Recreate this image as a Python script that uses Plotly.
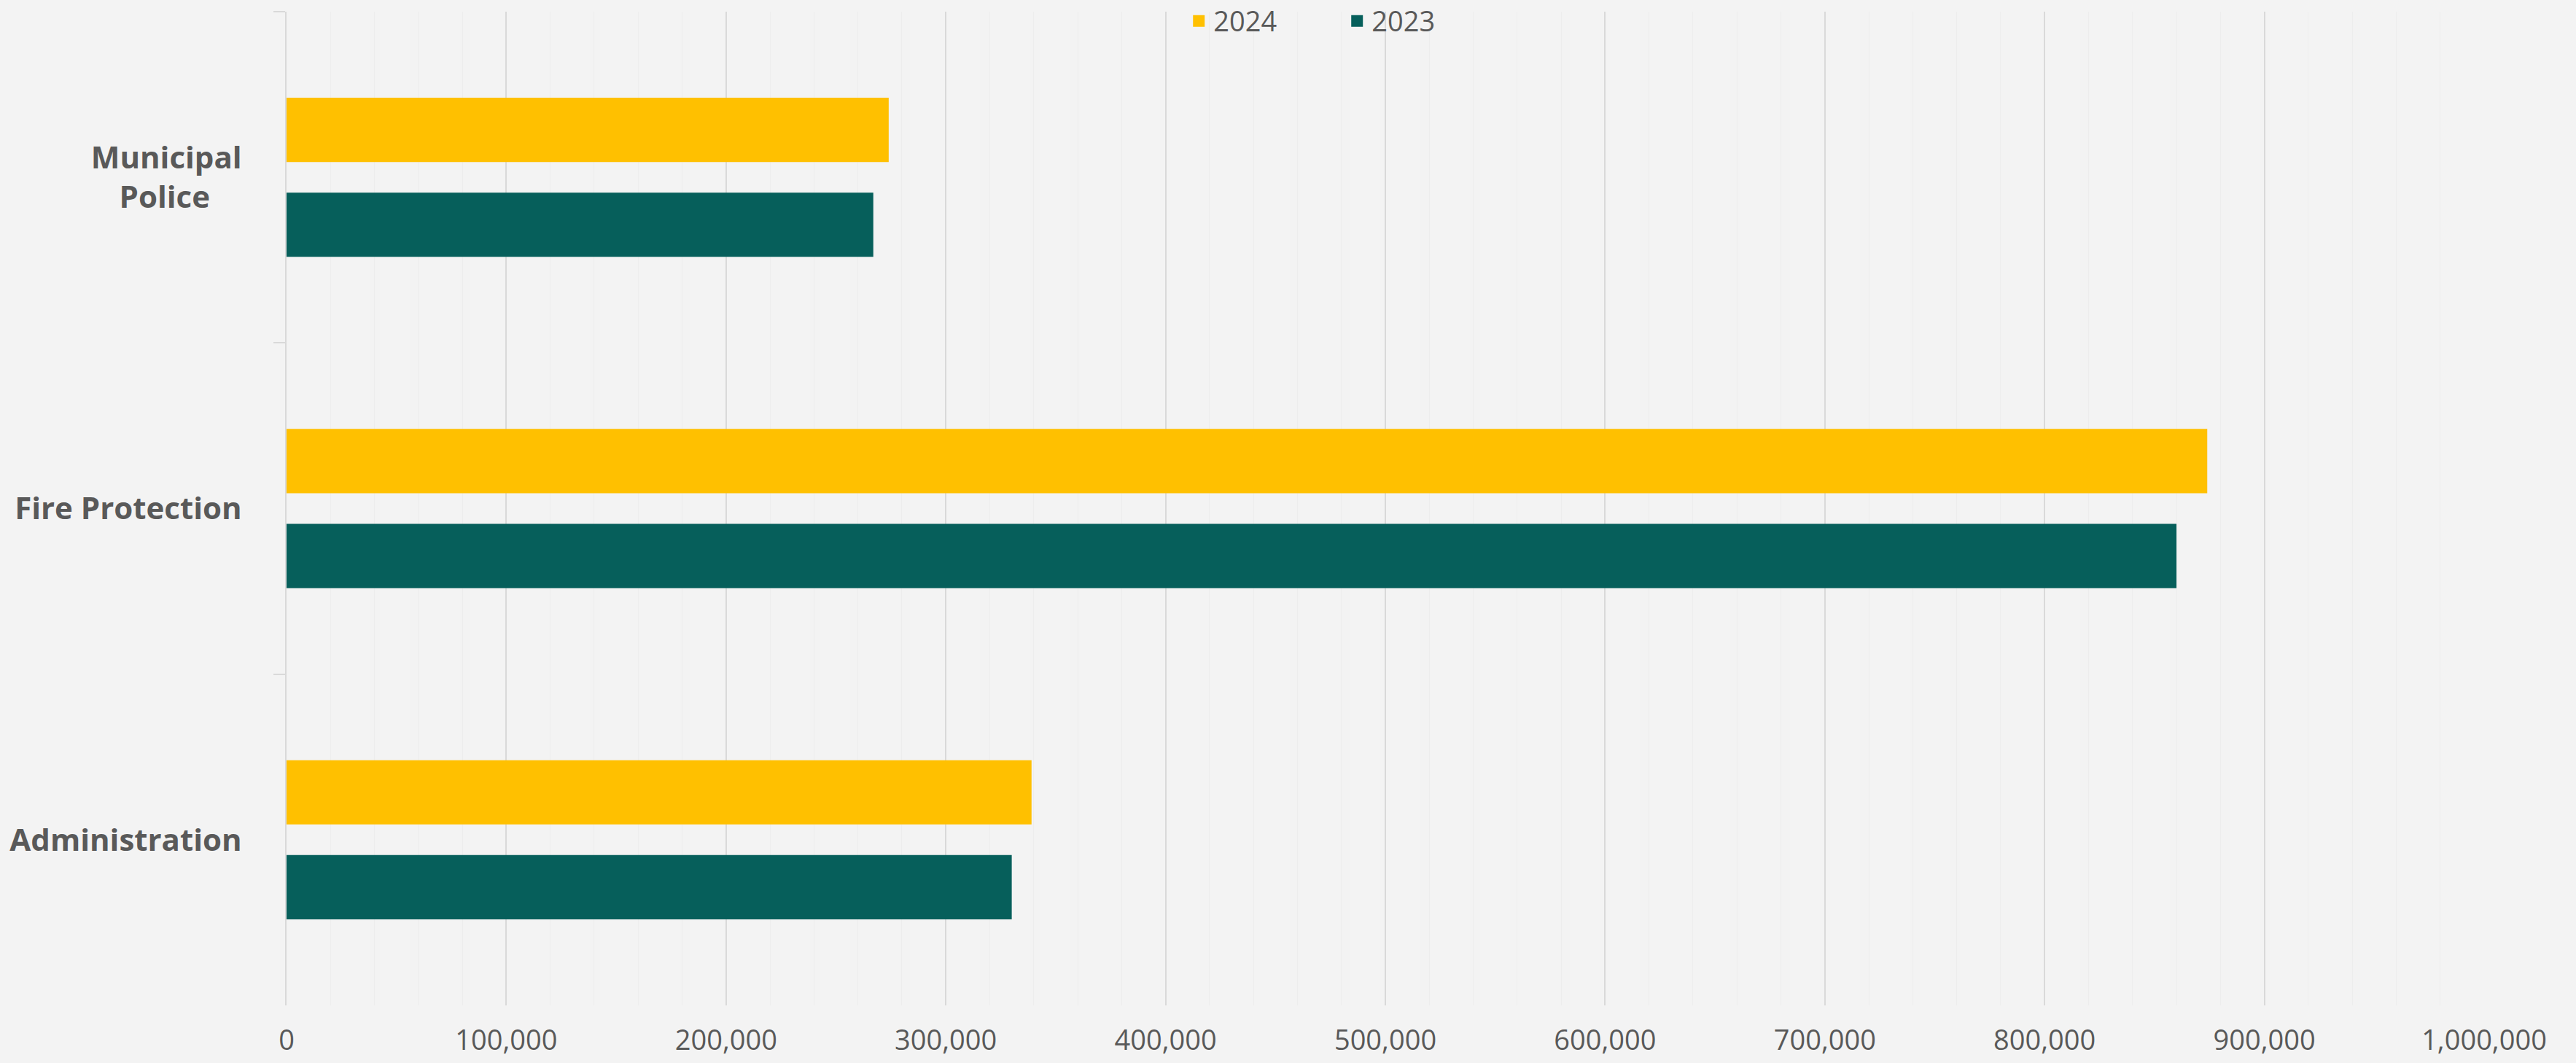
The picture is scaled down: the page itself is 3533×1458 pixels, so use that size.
import plotly.graph_objects as go

categories = ["Municipal<br>Police\u00a0\u00a0\u00a0\u00a0", "Fire Protection", "Administration"]
values_2024 = [274000, 874000, 339000]
values_2023 = [267000, 860000, 330000]
series_names = ["2024", "2023"]
x_tickvals = [0, 100000, 200000, 300000, 400000, 500000, 600000, 700000, 800000, 900000, 1000000]
x_ticktext = ["0", "100,000", "200,000", "300,000", "400,000", "500,000", "600,000",
              "700,000", "800,000", "900,000", "1,000,000"]

YELLOW = "#FFC000"
TEAL = "#065F5B"
GRID = "#d9d9d9"
TEXT = "#595959"
BG = "#f3f3f3"

fig = go.Figure()
fig.add_trace(go.Bar(y=categories, x=values_2024, name=series_names[0], orientation="h",
                     marker=dict(color=YELLOW, line=dict(width=0)), showlegend=False,
                     legendgroup="a"))
fig.add_trace(go.Bar(y=categories, x=values_2023, name=series_names[1], orientation="h",
                     marker=dict(color=TEAL, line=dict(width=0)), showlegend=False,
                     legendgroup="b"))
# legend entries with larger square symbols
fig.add_trace(go.Scatter(x=[None], y=[None], mode="markers", name=series_names[0],
                         marker=dict(symbol="square", size=23, color=YELLOW), legendgroup="a"))
fig.add_trace(go.Scatter(x=[None], y=[None], mode="markers", name=series_names[1],
                         marker=dict(symbol="square", size=23, color=TEAL), legendgroup="b"))

fig.update_layout(
    width=3533, height=1458,
    paper_bgcolor=BG, plot_bgcolor=BG,
    margin=dict(l=393, r=126, t=16, b=79, autoexpand=False),
    barmode="group", bargap=0.427, bargroupgap=0.323,
    font=dict(family="Open Sans", color=TEXT, size=38),
    legend=dict(orientation="h", x=0.4085, xanchor="left", y=0.9905, yanchor="middle",
                bgcolor="rgba(0,0,0,0)", font=dict(size=38, color=TEXT),
                entrywidth=172, entrywidthmode="pixels", traceorder="normal",
                itemsizing="trace"),
    xaxis=dict(range=[0, 1000000], tickvals=x_tickvals, ticktext=x_ticktext,
               showgrid=True, gridcolor=GRID, gridwidth=2, zeroline=False,
               showline=False, ticks="", ticklabelstandoff=22,
               tickfont=dict(size=38, color=TEXT),
               minor=dict(dtick=20000, showgrid=True, gridcolor="#ededed", gridwidth=1)),
    yaxis=dict(type="category", range=[2.5, -0.5], showgrid=False, zeroline=False,
               showline=True, linecolor=GRID, linewidth=2,
               ticks="outside", tickson="boundaries", ticklen=16, tickcolor=GRID, tickwidth=2,
               ticklabelstandoff=51,
               tickfont=dict(size=42, color=TEXT, weight="bold")),
)

fig.write_html("out.html", config={"displayModeBar": False},
               post_script="document.body.style.margin='0';document.body.style.background='#f3f3f3';")
